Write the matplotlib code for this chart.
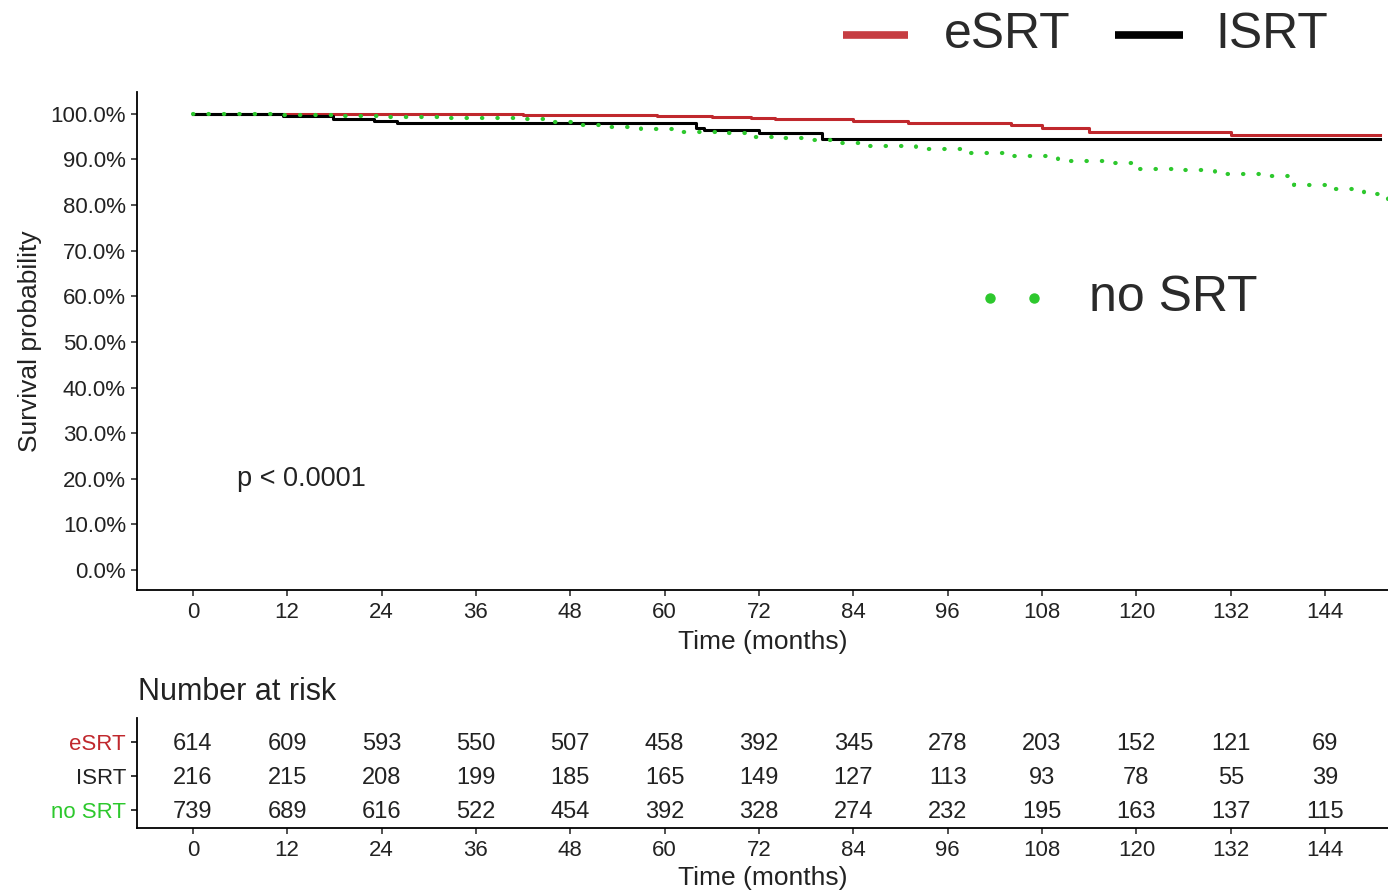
import matplotlib
matplotlib.use("Agg")
import matplotlib.pyplot as plt
from matplotlib.lines import Line2D

plt.rcParams['font.family'] = ['Liberation Sans', 'DejaVu Sans']

RED = '#C0282D'
GREEN = '#2DC82D'
TXT = '#222222'

# Kaplan-Meier step curves (time in months, survival in %)
esrt_t = [0, 20, 34, 42, 50, 59, 66, 71, 74, 84, 91, 98, 104, 108, 114, 132, 151]
esrt_s = [100, 99.95, 99.9, 99.8, 99.7, 99.6, 99.3, 99.0, 98.8, 98.5, 98.1, 98.1, 97.6, 96.9, 96.1, 95.4, 95.4]

isrt_t = [0, 11.5, 17.8, 23, 26, 64, 65, 72, 80, 151]
isrt_s = [100, 99.6, 98.9, 98.5, 98.1, 97.0, 96.5, 95.8, 94.5, 94.5]

nosrt_t = [0, 10, 18, 24, 32, 42, 46, 49, 53, 57, 62, 68, 71, 74, 78, 82, 86, 92, 98,
           104, 110, 116, 120, 126, 130, 136, 140, 145, 149, 152]
nosrt_s = [100, 99.8, 99.6, 99.4, 99.2, 98.8, 98.3, 97.6, 97.2, 96.6, 96.1, 95.8, 95.0, 94.7,
           94.2, 93.6, 93.0, 92.4, 91.4, 90.8, 89.6, 89.2, 88.0, 87.6, 86.8, 86.3, 84.5, 83.5,
           82.5, 80.5]

# number at risk
risk_times = [0, 12, 24, 36, 48, 60, 72, 84, 96, 108, 120, 132, 144]
risk_esrt = [614, 609, 593, 550, 507, 458, 392, 345, 278, 203, 152, 121, 69]
risk_isrt = [216, 215, 208, 199, 185, 165, 149, 127, 113, 93, 78, 55, 39]
risk_nosrt = [739, 689, 616, 522, 454, 392, 328, 274, 232, 195, 163, 137, 115]
group_names = ['eSRT', 'ISRT', 'no SRT']
group_cols = [RED, TXT, GREEN]

y_ticks = [0, 10, 20, 30, 40, 50, 60, 70, 80, 90, 100]

W, H = 1388, 892
fig = plt.figure(figsize=(W / 100, H / 100), dpi=100)

# main KM plot
ax = fig.add_axes([137 / W, 1 - 590 / H, (1388 - 137) / W, (590 - 92) / H])
ax.step(esrt_t, esrt_s, where='post', color=RED, lw=2.2)
ax.step(isrt_t, isrt_s, where='post', color='black', lw=2.2)
ax.step(nosrt_t, nosrt_s, where='post', color=GREEN, lw=3.0,
        linestyle=(0, (0.1, 3.6)), dash_capstyle='round')

ax.set_xlim(-7.1, 152)
ax.set_ylim(-4.4, 104.8)
ax.set_xticks(risk_times)
ax.set_yticks(y_ticks)
ax.set_yticklabels([f'{v:.1f}%' for v in y_ticks])
for s in ['top', 'right']:
    ax.spines[s].set_visible(False)
for s in ['left', 'bottom']:
    ax.spines[s].set_linewidth(1.3)
ax.tick_params(labelsize=16, length=4, width=1.1, colors=TXT, pad=4)
ax.tick_params(axis='x', pad=5)
ax.set_xlabel('Time (months)', fontsize=19, color=TXT, labelpad=5)
ax.set_ylabel('Survival probability', fontsize=19, color=TXT, labelpad=6)
ax.text(5.6, 20, 'p < 0.0001', fontsize=19.5, color=TXT, va='center', ha='left')

# legend pieces
fy = 1 - 35 / H
fig.add_artist(Line2D([843 / W, 908 / W], [fy, fy], color=RED, lw=5.5,
                      solid_capstyle='butt', alpha=0.9))
fig.text(944 / W, fy, 'eSRT', fontsize=36, color='#2a2a2a', va='center', ha='left')
fig.add_artist(Line2D([1115 / W, 1183 / W], [fy, fy], color='black', lw=5.5,
                      solid_capstyle='butt'))
fig.text(1215 / W, fy, 'ISRT', fontsize=36, color='#2a2a2a', va='center', ha='left')

fy2 = 1 - 298 / H
fig.add_artist(Line2D([990 / W, 1034 / W], [fy2, fy2], color=GREEN, lw=0,
                      marker='o', markersize=6.5))
fig.text(1089 / W, fy2, 'no SRT', fontsize=36, color='#2a2a2a', va='center', ha='left')

# risk table
rax = fig.add_axes([137 / W, 1 - 828 / H, (1388 - 137) / W, (828 - 718) / H])
rows = [risk_esrt, risk_isrt, risk_nosrt]
for i, vals in enumerate(rows):
    yv = 3 - i
    for t, v in zip(risk_times, vals):
        rax.text(t, yv - 0.05, str(v), fontsize=17, color=TXT, ha='center', va='center')
rax.set_xlim(-7.1, 152)
rax.set_ylim(0.47, 3.71)
rax.set_xticks(risk_times)
rax.set_yticks([3, 2, 1])
rax.set_yticklabels(group_names)
for lab, c in zip(rax.get_yticklabels(), group_cols):
    lab.set_color(c)
for s in ['top', 'right']:
    rax.spines[s].set_visible(False)
for s in ['left', 'bottom']:
    rax.spines[s].set_linewidth(1.3)
rax.tick_params(labelsize=16, length=4, width=1.1, pad=4)
rax.tick_params(axis='x', colors=TXT, pad=5)
rax.set_xlabel('Time (months)', fontsize=19, color=TXT, labelpad=3)
fig.text(138 / W, 1 - 692 / H, 'Number at risk', fontsize=22, color=TXT, va='center', ha='left')

fig.savefig('out.png', dpi=100)
